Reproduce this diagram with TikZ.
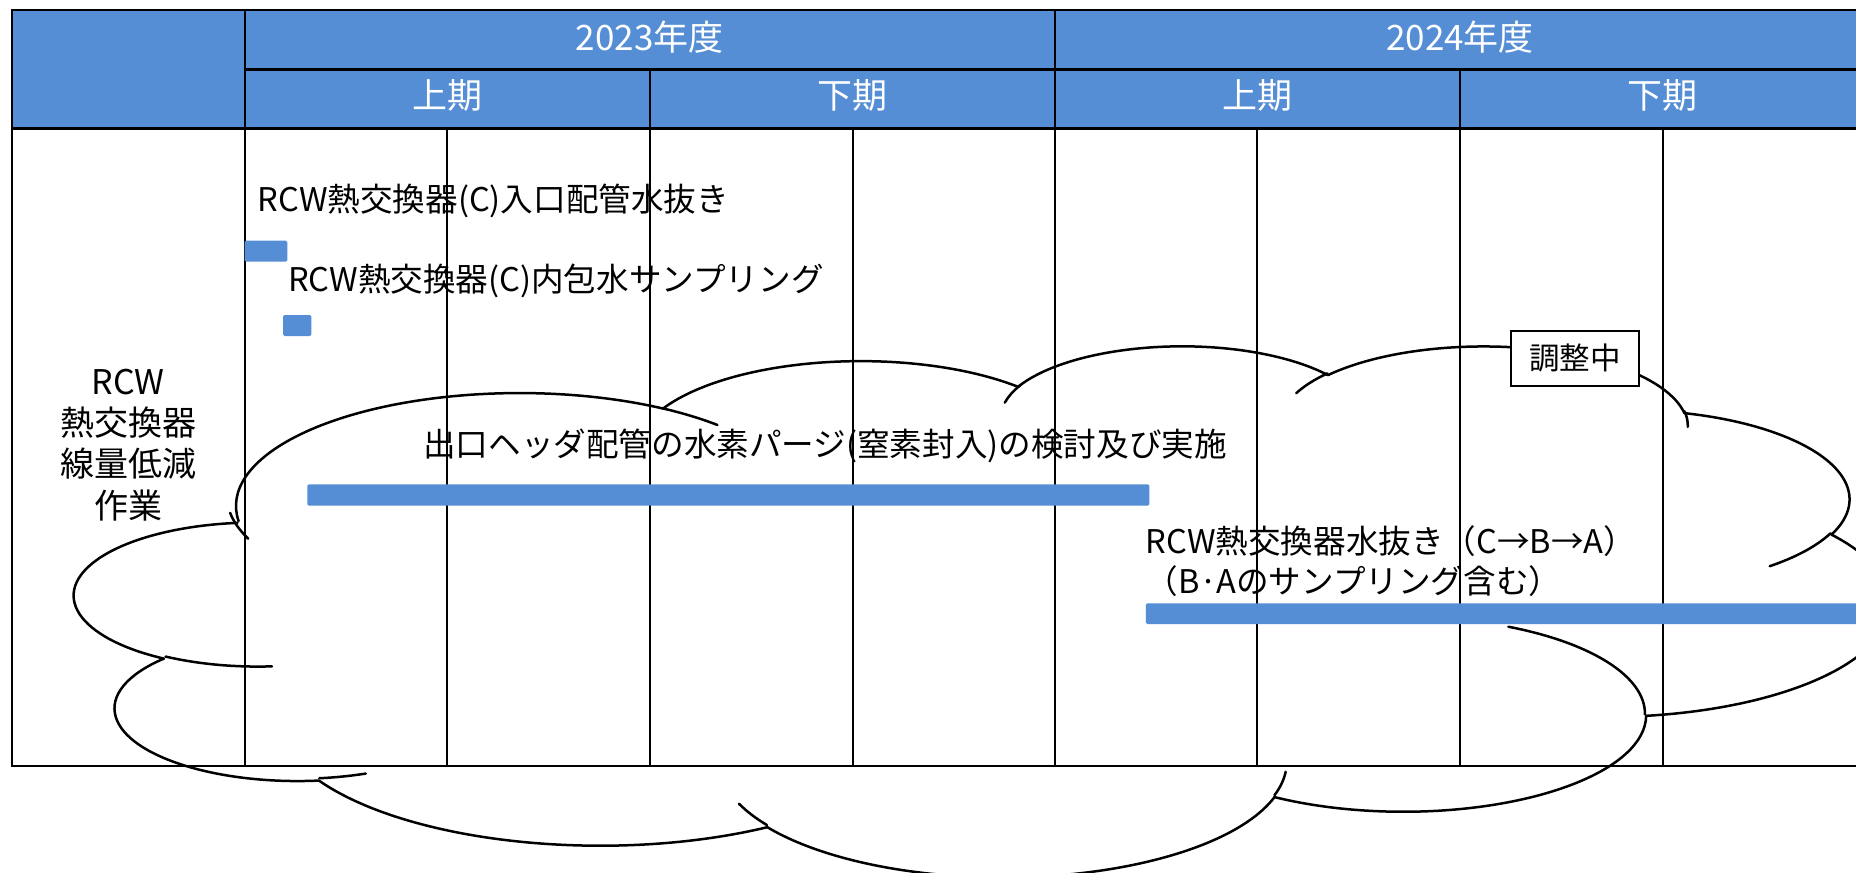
\documentclass[tikz,border=0pt]{standalone}
\usepackage{fontspec}
\setmainfont{Noto Sans CJK JP}
\definecolor{hdrblue}{RGB}{85,142,213}
\newcommand\ooparams[4]{%
  \pgfmathsetmacro\oots{atan2((#1)*sin(#3),(#2)*cos(#3))}%
  \pgfmathsetmacro\oote{atan2((#1)*sin((#3)+(#4)),(#2)*cos((#3)+(#4)))}%
  \pgfmathsetmacro\oodt{mod(\oote-(\oots)+720,360)}%
}
\newcommand\cloudarc[6]{%
  \ooparams{#2}{#3}{#4}{#5}%
  \draw[cloudline] (#1) arc[start angle=\oots,delta angle=\oodt,x radius=#2,y radius=#3] coordinate (#6);%
}
\tikzset{
  cloudline/.style={line width=2.5pt,black,line cap=round},
  thickline/.style={line width=2.8pt,black},
  thinline/.style={line width=2pt,black},
  barfill/.style={fill=hdrblue,rounded corners=1.5pt},
  hdrtxt/.style={text=white,inner sep=0pt,font=\fontsize{35}{42}\selectfont},
  sidetxt/.style={inner sep=0pt,align=center,font=\fontsize{34}{41.3}\selectfont},
  bodytxt/.style={inner sep=0pt,font=\fontsize{32.6}{40}\selectfont},
  notebox/.style={draw=black,line width=1.8pt,fill=white,minimum width=128pt,minimum height=55pt,inner sep=0pt,font=\fontsize{30.5}{36}\selectfont}
}
\begin{document}
\begin{tikzpicture}[x=1pt,y=1pt,yscale=-1]
\useasboundingbox (0,0) rectangle (1856,873);
\clip (0,0) rectangle (1856,873);
\fill[white] (0,0) rectangle (1856,873);
% header fill
\fill[hdrblue] (12,10) rectangle (1866,128.3);
% body verticals
\foreach \xx in {447.3,852.6,1257.4,1662.8} \draw[thinline] (\xx,128.3) -- (\xx,766);
\foreach \xx in {649.6,1460.1} \draw[thinline] (\xx,69.3) -- (\xx,766);
\foreach \xx in {244.5,1055.3} \draw[thinline] (\xx,10) -- (\xx,766);
% header lines and border
\draw[thickline] (244.5,69.3) -- (1866,69.3);
\draw[thickline] (12,128.3) -- (1866,128.3);
\draw[thickline] (12,10) -- (1866,10) -- (1866,766) -- (12,766) -- cycle;
% header texts
\node[hdrtxt] (y23) at (649.6,37) {2023年度};
\node[hdrtxt] (y24) at (1460.1,37) {2024年度};
\node[hdrtxt] (h1) at (447,95) {上期};
\node[hdrtxt] (h2) at (852,95) {下期};
\node[hdrtxt] (h3) at (1257,95) {上期};
\node[hdrtxt] (h4) at (1662,95) {下期};
% side label
\node[sidetxt] (side) at (128,445) {RCW\\熱交換器\\線量低減\\作業};
% cloud outline (preset cloud geometry)
\begin{scope}[shift={(74.8,344.6)},xscale=1814.6/4320,yscale=531/4320]
\cloudarc{390,1437}{675.3}{919}{-190.48748}{123.78053}{k1}
\cloudarc{k1}{533.3}{726.7}{-144.10238}{89.94523}{k2}
\cloudarc{k2}{436.5}{594.5}{-145.80792}{99.72302}{k3}
\cloudarc{k3}{485.7}{659.5}{-130.98607}{117.24173}{k4}
\cloudarc{k4}{533.3}{727.3}{-78.70888}{109.02692}{k5}
\cloudarc{k5}{677.5}{922}{-46.26725}{130.269}{k6}
\cloudarc{k6}{578.5}{786.7}{0.62502}{114.03333}{k7}
\cloudarc{k7}{675.2}{921.5}{22.4516}{115.17255}{k8}
\cloudarc{k8}{772}{1054.3}{66.24263}{75.71102}{k9}
\cloudarc{k9}{436}{591.8}{-274.94208}{146.73557}{k10}
\cloudarc{k10}{434.5}{594.5}{-246.8285}{152.51885}{k11}
% creases
\cloudarc{469.3,2617.7}{434.5}{594.5}{86.742}{26.4295}{c1}
\cloudarc{692.8,3489.9}{436}{591.8}{73.61047}{11.44747}{c2}
\cloudarc{1647.8,3909}{675.2}{921.5}{137.62415}{14.0811}{c3}
\cloudarc{2882.7,3475.1}{675.2}{921.5}{6.45327}{15.99835}{c4}
\cloudarc{3412.9,2295.4}{578.5}{786.7}{-70.29235}{70.91737}{c5}
\cloudarc{4179.8,1535.4}{533.3}{727.3}{30.31803}{27.7515}{c6}
\cloudarc{3832.4,542.6}{485.7}{659.5}{-13.74433}{14.8589}{c7}
\cloudarc{2907.8,395.2}{485.7}{659.5}{-149.18145}{18.19537}{c8}
\cloudarc{2214.1,472}{436.5}{594.5}{-163.49427}{17.68635}{c9}
\cloudarc{1400,519.2}{675.3}{919}{-66.70695}{12.31935}{c10}
\cloudarc{412.7,1578.9}{675.3}{919}{150.78693}{17.41775}{c11}
\end{scope}
% bars
\fill[barfill] (244.5,240.7) rectangle (287.3,261.7);
\fill[barfill] (283.1,315) rectangle (311.3,336);
\fill[barfill] (307.3,484.3) rectangle (1149.4,505.7);
\fill[barfill] (1145.8,603.3) rectangle (1880,624);
% task texts
\node[bodytxt,anchor=west] (t1) at (257.5,201) {RCW熱交換器(C)入口配管水抜き};
\node[bodytxt,anchor=west] (t2) at (287.8,281) {RCW熱交換器(C)内包水サンプリング};
\node[bodytxt,anchor=west] (t3) at (423,446) {出口ヘッダ配管の水素パージ(窒素封入)の検討及び実施};
\node[bodytxt,anchor=west,align=left] (t4) at (1145.5,561.5) {RCW熱交換器水抜き（C→B→A）\\（B·Aのサンプリング含む）};
% note box
\node[notebox] (note) at (1574.9,358.4) {調整中};
\end{tikzpicture}
\end{document}
